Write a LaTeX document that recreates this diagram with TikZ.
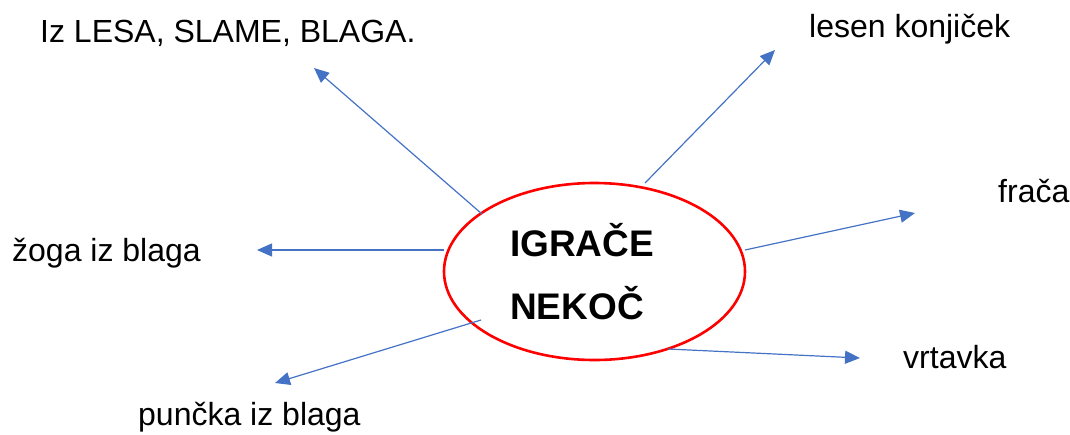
\documentclass[tikz,border=0pt]{standalone}
\usepackage{fontspec}
\setmainfont{Liberation Sans}
\usetikzlibrary{shapes.geometric,arrows.meta}
\definecolor{arrowblue}{HTML}{4472C4}
\definecolor{ellred}{HTML}{FF0000}
\tikzset{
  lbl/.style={anchor=base west, inner sep=0pt, font=\fontsize{32}{38}\selectfont},
  title/.style={anchor=base west, inner sep=0pt, font=\fontsize{37}{44}\selectfont\bfseries},
  conn/.style={draw=arrowblue, line width=1.2pt, -{Triangle[length=15pt,width=13pt]}, shorten >=0pt},
  mainell/.style={ellipse, draw=ellred, line width=2.6pt, minimum width=301pt, minimum height=177pt, inner sep=0pt, fill=white}
}
\begin{document}
\begin{tikzpicture}[x=1pt,y=-1pt]
\useasboundingbox (0,0) rectangle (1070,434);
\node[mainell] (c) at (594.5,271.5) {};
\node[title] (t1) at (510,256) {IGRAČE};
\node[title] (t2) at (510,319) {NEKOČ};

\node[lbl] (l1) at (40,42) {Iz LESA, SLAME, BLAGA.};
\node[lbl] (l2) at (809,37) {lesen konjiček};
\node[lbl] (l3) at (998,202) {frača};
\node[lbl] (l4) at (12,261) {žoga iz blaga};
\node[lbl] (l5) at (903,368) {vrtavka};
\node[lbl] (l6) at (138,425) {punčka iz blaga};

\coordinate (s1) at (482,214);
\coordinate (s2) at (645,183);
\coordinate (s3) at (444,250);
\coordinate (s4) at (745,250);
\coordinate (s5) at (481,320);
\coordinate (s6) at (668,349);
\coordinate (e1) at (314,68);
\coordinate (e2) at (775,50);
\coordinate (e3) at (257,250);
\coordinate (e4) at (915,213);
\coordinate (e5) at (275,383);
\coordinate (e6) at (860,358);

\draw[conn] (s1) -- (e1);
\draw[conn] (s2) -- (e2);
\draw[conn] (s3) -- (e3);
\draw[conn] (s4) -- (e4);
\draw[conn] (s5) -- (e5);
\draw[conn] (s6) -- (e6);
\end{tikzpicture}
\end{document}
